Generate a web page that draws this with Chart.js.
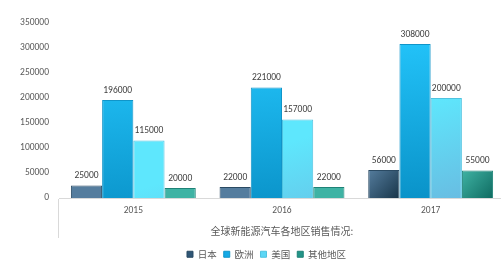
<!DOCTYPE html>
<html>
<head>
<meta charset="utf-8">
<script src="https://cdn.jsdelivr.net/npm/chart.js@4/dist/chart.umd.min.js"></script>
<style>
  html, body { margin: 0; padding: 0; background: #ffffff; overflow: hidden; }
  #wrap { width: 501px; height: 266px; position: relative; overflow: hidden; }
</style>
</head>
<body>
<div id="wrap"><canvas id="c" width="506" height="269"></canvas></div>
<script>
const categories = ['2015', '2016', '2017'];
const seriesNames = ['日本', '欧洲', '美国', '其他地区'];
const japan  = [25000, 22000, 56000];
const europe = [196000, 221000, 308000];
const usa    = [115000, 157000, 200000];
const others = [20000, 22000, 55000];
const yMax = 350000;
const yStep = 50000;
const axisTitle = '全球新能源汽车各地区销售情况:';

const baseColors = ['#2f5676', '#14a9e6', '#5cd6f5', '#239488'];
const borderColors = ['#2a4a63', '#1095c9', '#4fc3e0', '#1e8277'];
const gradStops = [
  ['#557d9e', '#183549', 'diag'],
  ['#22c2f8', '#0a93c9', 'vert'],
  ['#5ee7fd', '#68bde2', 'diag'],
  ['#3fb3a4', '#0f6b61', 'diag']
];

const numFont = "'Liberation Sans Narrow', Carlito, 'Liberation Sans', Arial, sans-serif";
const cjkFont = "'Noto Sans CJK SC', 'Liberation Sans', sans-serif";

const gradientPlugin = {
  id: 'barGradients',
  beforeDatasetsDraw(chart) {
    const ctx = chart.ctx;
    chart.data.datasets.forEach((ds, i) => {
      const meta = chart.getDatasetMeta(i);
      const g = gradStops[i];
      meta.data.forEach(bar => {
        const left = bar.x - bar.width / 2;
        const right = bar.x + bar.width / 2;
        const top = Math.min(bar.y, bar.base);
        const bottom = Math.max(bar.y, bar.base);
        let grad;
        if (g[2] === 'vert') {
          grad = ctx.createLinearGradient(left, top, left + bar.width * 0.3, bottom);
        } else {
          grad = ctx.createLinearGradient(left, top, right, bottom);
        }
        grad.addColorStop(0, g[0]);
        grad.addColorStop(1, g[1]);
        bar.options.backgroundColor = grad;
      });
    });
  }
};

const valueLabelPlugin = {
  id: 'valueLabels',
  afterDatasetsDraw(chart) {
    const ctx = chart.ctx;
    ctx.save();
    ctx.font = '9.5px ' + numFont;
    ctx.fillStyle = '#404040';
    ctx.textAlign = 'center';
    ctx.textBaseline = 'bottom';
    chart.data.datasets.forEach((ds, i) => {
      const meta = chart.getDatasetMeta(i);
      meta.data.forEach((bar, j) => {
        ctx.fillText(String(ds.data[j]), bar.x, bar.y - 5);
      });
    });
    ctx.restore();
  }
};

const seriesData = [japan, europe, usa, others];

new Chart(document.getElementById('c'), {
  type: 'bar',
  data: {
    labels: categories,
    datasets: seriesNames.map((name, i) => ({
      label: name,
      data: seriesData[i],
      backgroundColor: baseColors[i],
      borderColor: borderColors[i],
      borderWidth: 1,
      barPercentage: 1.0,
      categoryPercentage: 0.84
    }))
  },
  options: {
    responsive: false,
    animation: false,
    devicePixelRatio: 1,
    layout: { padding: { left: 28, right: 1, top: 23, bottom: 0 } },
    plugins: {
      tooltip: { enabled: false },
      legend: {
        position: 'bottom',
        labels: {
          boxWidth: 6,
          boxHeight: 6,
          padding: 7,
          color: '#595959',
          font: { family: cjkFont, size: 9.5 }
        }
      }
    },
    scales: {
      x: {
        offset: true,
        grid: {
          drawOnChartArea: false,
          drawTicks: true,
          tickLength: 40,
          color: (c) => (c.index === 0 ? '#d9d9d9' : 'rgba(0,0,0,0)')
        },
        border: { display: true, color: '#d9d9d9', width: 1 },
        ticks: {
          color: '#595959',
          padding: -33,
          font: { family: numFont, size: 9.5 }
        },
        title: {
          display: true,
          text: axisTitle,
          color: '#595959',
          font: { family: cjkFont, size: 10 },
          padding: { top: 0, bottom: 5.5 }
        },
        afterFit(scale) { scale.height = 44.5; }
      },
      y: {
        min: 0,
        max: yMax,
        grid: { display: false, drawTicks: false },
        border: { display: false },
        ticks: {
          stepSize: yStep,
          color: '#595959',
          padding: 10,
          font: { family: numFont, size: 9.5 },
          callback: (v) => String(v)
        },
        afterFit(scale) {
          scale.width = 31;
          scale._computeLabelArea = () => undefined;
        }
      }
    }
  },
  plugins: [gradientPlugin, valueLabelPlugin]
});
</script>
</body>
</html>
